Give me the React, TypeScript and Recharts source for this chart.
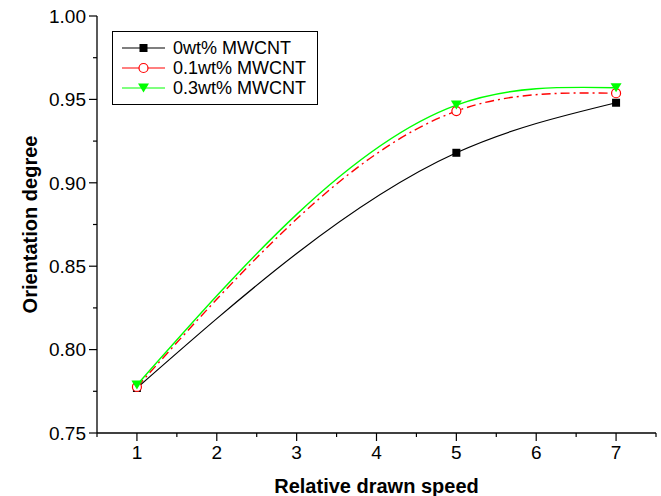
import React from 'react';
import { LineChart, Line, XAxis, YAxis, Legend } from 'recharts';

// ---- data ----
const speeds = [1, 5, 7];
const wt0 = [0.777, 0.918, 0.948];
const wt01 = [0.7776, 0.943, 0.9537];
const wt03 = [0.7788, 0.9466, 0.957];
const seriesNames = ['0wt% MWCNT', '0.1wt% MWCNT', '0.3wt% MWCNT'];
const xMajorTicks = [1, 2, 3, 4, 5, 6, 7];
const xMinorTicks = [0.5, 1.5, 2.5, 3.5, 4.5, 5.5, 6.5, 7.5];
const yMajorTicks = [0.75, 0.8, 0.85, 0.9, 0.95, 1.0];
const yMinorTicks = [0.775, 0.825, 0.875, 0.925, 0.975];

const data = speeds.map((x, i) => ({ x, a: wt0[i], b: wt01[i], c: wt03[i] }));
const xTicks = [...xMajorTicks, ...xMinorTicks].sort((p, q) => p - q);
const yTicks = [...yMajorTicks, ...yMinorTicks].sort((p, q) => p - q);

const FONT = "Arial, 'Liberation Sans', Helvetica, sans-serif";
const isMajorX = (v: number) => xMajorTicks.some((t) => Math.abs(t - v) < 1e-9);
const isMajorY = (v: number) => yMajorTicks.some((t) => Math.abs(t - v) < 1e-9);

// natural cubic spline with x as independent variable
function splineX(context: any) {
  let xs: number[] = [];
  let ys: number[] = [];
  return {
    areaStart() {},
    areaEnd() {},
    lineStart() {
      xs = [];
      ys = [];
    },
    lineEnd() {
      const n = xs.length;
      if (n === 0) return;
      context.moveTo(xs[0], ys[0]);
      if (n < 3) {
        for (let i = 1; i < n; i++) context.lineTo(xs[i], ys[i]);
        return;
      }
      const h: number[] = [];
      const d: number[] = [];
      for (let i = 0; i < n - 1; i++) {
        h[i] = xs[i + 1] - xs[i];
        d[i] = (ys[i + 1] - ys[i]) / h[i];
      }
      const M = new Array(n).fill(0);
      const m = n - 2;
      const a: number[] = [], b: number[] = [], c: number[] = [], r: number[] = [];
      for (let k = 0; k < m; k++) {
        const i = k + 1;
        a[k] = h[i - 1];
        b[k] = 2 * (h[i - 1] + h[i]);
        c[k] = h[i];
        r[k] = 6 * (d[i] - d[i - 1]);
      }
      for (let k = 1; k < m; k++) {
        const w = a[k] / b[k - 1];
        b[k] -= w * c[k - 1];
        r[k] -= w * r[k - 1];
      }
      const sol: number[] = new Array(m).fill(0);
      sol[m - 1] = r[m - 1] / b[m - 1];
      for (let k = m - 2; k >= 0; k--) sol[k] = (r[k] - c[k] * sol[k + 1]) / b[k];
      for (let k = 0; k < m; k++) M[k + 1] = sol[k];
      const s: number[] = [];
      for (let i = 0; i < n - 1; i++) s[i] = d[i] - (h[i] * (2 * M[i] + M[i + 1])) / 6;
      s[n - 1] = d[n - 2] + (h[n - 2] * (M[n - 2] + 2 * M[n - 1])) / 6;
      for (let i = 0; i < n - 1; i++) {
        const t = h[i] / 3;
        context.bezierCurveTo(
          xs[i] + t, ys[i] + t * s[i],
          xs[i + 1] - t, ys[i + 1] - t * s[i + 1],
          xs[i + 1], ys[i + 1]
        );
      }
    },
    point(x: number, y: number) {
      xs.push(+x);
      ys.push(+y);
    },
  };
}

// ---- markers ----
const SquareDot = (p: any) =>
  p.cx == null ? null : (
    <rect key={p.key} x={p.cx - 4} y={p.cy - 4} width={8} height={8} fill="#000" />
  );
const CircleDot = (p: any) =>
  p.cx == null ? null : (
    <circle key={p.key} cx={p.cx} cy={p.cy} r={4.5} fill="#fff" stroke="#ff0000" strokeWidth={1.2} />
  );
const TriDot = (p: any) =>
  p.cx == null ? null : (
    <path
      key={p.key}
      d={`M${p.cx - 5.5},${p.cy - 4.5} L${p.cx + 5.5},${p.cy - 4.5} L${p.cx},${p.cy + 4.5} Z`}
      fill="#00ff00"
    />
  );

// ---- ticks ----
const BottomTick = (p: any) => {
  const v = p.payload.value;
  const maj = isMajorX(v);
  return (
    <g>
      <line x1={p.x} x2={p.x} y1={p.y} y2={p.y + (maj ? 8 : 4)} stroke="#000" strokeWidth={1.2} />
      {maj && (
        <text x={p.x} y={p.y + 12} dy="0.72em" textAnchor="middle" fontSize={19} fontFamily={FONT} fill="#000">
          {v}
        </text>
      )}
    </g>
  );
};
const TopTick = (p: any) => {
  const v = p.payload.value;
  const maj = isMajorX(v);
  return <line x1={p.x} x2={p.x} y1={p.y} y2={p.y + (maj ? 8 : 4)} stroke="#000" strokeWidth={1.2} />;
};
const LeftTick = (p: any) => {
  const v = p.payload.value;
  const maj = isMajorY(v);
  return (
    <g>
      <line x1={p.x} x2={p.x - (maj ? 8 : 4)} y1={p.y} y2={p.y} stroke="#000" strokeWidth={1.2} />
      {maj && (
        <text x={p.x - 11} y={p.y} dy="0.36em" textAnchor="end" fontSize={19} fontFamily={FONT} fill="#000">
          {v.toFixed(2)}
        </text>
      )}
    </g>
  );
};
const RightTick = (p: any) => {
  const v = p.payload.value;
  const maj = isMajorY(v);
  return <line x1={p.x} x2={p.x - (maj ? 8 : 4)} y1={p.y} y2={p.y} stroke="#000" strokeWidth={1.2} />;
};

// ---- legend ----
const legendIcons = [
  (cx: number, cy: number) => <rect x={cx - 4} y={cy - 4} width={8} height={8} fill="#000" />,
  (cx: number, cy: number) => <circle cx={cx} cy={cy} r={4.5} fill="#fff" stroke="#ff0000" strokeWidth={1.2} />,
  (cx: number, cy: number) => (
    <path d={`M${cx - 5.5},${cy - 4.5} L${cx + 5.5},${cy - 4.5} L${cx},${cy + 4.5} Z`} fill="#00ff00" />
  ),
];
const legendColors = ['#000000', '#ff0000', '#00ff00'];

const LegendBox = () => (
  <div
    style={{
      border: '1.3px solid #000',
      background: '#fff',
      padding: '6px 0 6px 9px',
      width: 195,
      fontFamily: FONT,
    }}
  >
    {seriesNames.map((name, i) => (
      <div key={name} style={{ display: 'flex', alignItems: 'center', height: 20 }}>
        <svg width={43} height={20} style={{ marginRight: 8 }}>
          <line x1={0} x2={43} y1={10} y2={10} stroke={legendColors[i]} strokeWidth={1.2} />
          {legendIcons[i](21.5, 10)}
        </svg>
        <span style={{ fontSize: 18, color: '#000', lineHeight: '20px', whiteSpace: 'nowrap' }}>{name}</span>
      </div>
    ))}
  </div>
);

export default function App() {
  return (
    <div style={{ position: 'absolute', left: 0, top: 0, width: 661, height: 496, background: '#fff' }}>
      <LineChart width={661} height={496} data={data} margin={{ top: 16, right: 5, bottom: 0, left: 0 }}>
        <XAxis
          xAxisId="main"
          dataKey="x"
          type="number"
          domain={[0.5, 7.5]}
          allowDataOverflow
          ticks={xTicks}
          interval={0}
          tickSize={0}
          tickMargin={0}
          tickLine={false}
          tick={BottomTick}
          height={63}
          axisLine={{ stroke: '#000', strokeWidth: 1.3 }}
          label={{
            value: 'Relative drawn speed',
            position: 'insideBottom',
            offset: 3,
            style: { fontSize: 20, fontWeight: 'bold', fontFamily: FONT, fill: '#000' },
          }}
        />
        <XAxis
          xAxisId="top"
          dataKey="x"
          type="number"
          orientation="top"
          domain={[0.5, 7.5]}
          allowDataOverflow
          ticks={xTicks}
          interval={0}
          tickSize={0}
          tickMargin={0}
          tickLine={false}
          tick={TopTick}
          height={0}
          axisLine={{ stroke: '#000', strokeWidth: 1.3 }}
        />
        <YAxis
          yAxisId="main"
          type="number"
          domain={[0.75, 1.0]}
          allowDataOverflow
          ticks={yTicks}
          interval={0}
          tickSize={0}
          tickMargin={0}
          tickLine={false}
          tick={LeftTick}
          width={97}
          axisLine={{ stroke: '#000', strokeWidth: 1.3 }}
          label={{
            value: 'Orientation degree',
            angle: -90,
            position: 'center',
            dx: -19,
            style: { fontSize: 20, fontWeight: 'bold', fontFamily: FONT, fill: '#000', textAnchor: 'middle' },
          }}
        />
        <YAxis
          yAxisId="right"
          type="number"
          orientation="right"
          domain={[0.75, 1.0]}
          allowDataOverflow
          ticks={yTicks}
          interval={0}
          tickSize={0}
          tickMargin={0}
          tickLine={false}
          tick={RightTick}
          width={0}
          axisLine={{ stroke: '#000', strokeWidth: 1.3 }}
        />
        <Legend
          layout="vertical"
          align="center"
          verticalAlign="middle"
          content={LegendBox}
          wrapperStyle={{ left: 112, top: 31, width: 206 }}
        />
        <Line
          xAxisId="main"
          yAxisId="main"
          dataKey="a"
          name={seriesNames[0]}
          type={splineX as any}
          stroke="#000"
          strokeWidth={1.2}
          dot={SquareDot}
          activeDot={false}
          isAnimationActive={false}
        />
        <Line
          xAxisId="main"
          yAxisId="main"
          dataKey="b"
          name={seriesNames[1]}
          type={splineX as any}
          stroke="#ff0000"
          strokeWidth={1.4}
          strokeDasharray="9 4 2 4"
          dot={CircleDot}
          activeDot={false}
          isAnimationActive={false}
        />
        <Line
          xAxisId="main"
          yAxisId="main"
          dataKey="c"
          name={seriesNames[2]}
          type={splineX as any}
          stroke="#00ff00"
          strokeWidth={1.4}
          dot={TriDot}
          activeDot={false}
          isAnimationActive={false}
        />
      </LineChart>
    </div>
  );
}
